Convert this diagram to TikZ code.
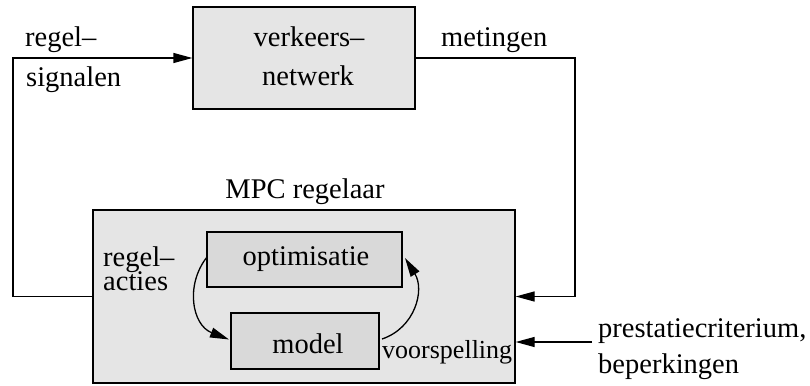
\documentclass[tikz,border=0pt]{standalone}
\usepackage{fontspec}
\setmainfont{Liberation Serif}
\usetikzlibrary{arrows.meta}
\begin{document}
\begin{tikzpicture}[x=1pt,y=-1pt,
  txt/.style={font=\fontsize{28.5}{34}\selectfont, inner sep=0pt},
  smalltxt/.style={font=\fontsize{26}{30}\selectfont, inner sep=0pt},
  bigbox/.style={draw, line width=1.3pt, fill=black!10, inner sep=0pt},
  innerbox/.style={draw, line width=1.3pt, fill=black!15, inner sep=0pt},
  conn/.style={line width=1.3pt},
  arr/.style={conn, -{Triangle[length=19pt,width=10pt]}}]
\useasboundingbox (0,0) rectangle (810,385);
% boxes
\node[bigbox, minimum width=222pt, minimum height=102pt] (net) at (304,58) {};
\node[bigbox, minimum width=422pt, minimum height=173pt] (mpc) at (304,296.5) {};
\node[innerbox, minimum width=195pt, minimum height=55pt] (opt) at (304.5,259.5) {};
\node[innerbox, minimum width=148pt, minimum height=56pt] (mod) at (305,341) {};
% box texts
\node[txt, anchor=base] (t1) at (309,47) {verkeers--};
\node[txt, anchor=base] (t2) at (308,86) {netwerk};
\node[txt, anchor=base] (t3) at (305,198) {MPC regelaar};
\node[txt, anchor=base] (t4) at (306,265) {optimisatie};
\node[txt, anchor=base] (t5) at (308,353) {model};
% labels
\node[txt, anchor=base west] (l1) at (25,47) {regel--};
\node[txt, anchor=base west] (l2) at (26,87) {signalen};
\node[txt, anchor=base west] (l3) at (441,47) {metingen};
\node[txt, anchor=base west] (l4) at (103,266) {regel--};
\node[txt, anchor=base west] (l5) at (103,290) {acties};
\node[smalltxt, anchor=base west] (l6) at (382,358) {voorspelling};
\node[txt, anchor=base west] (l7) at (598,337) {prestatiecriterium,};
\node[txt, anchor=base west] (l8) at (598,373) {beperkingen};
% connectors
\coordinate (lc) at (13,296.5);
\coordinate (rc) at (575,58);
\coordinate (pc) at (592,342);
\draw[arr] (mpc.west) -- (lc) |- (net.west);
\draw[arr] (net.east) -- (rc) |- (mpc.east);
\draw[arr] (pc) -- (mpc.east |- pc);
\coordinate (os) at (207,257);
\coordinate (me) at (229,339.5);
\coordinate (ms) at (382,339);
\coordinate (oe) at (405,258);
\draw[arr] (os) .. controls (185,285) and (192,325) .. (me);
\draw[arr] (ms) .. controls (415,328) and (425,290) .. (oe);
\end{tikzpicture}
\end{document}
